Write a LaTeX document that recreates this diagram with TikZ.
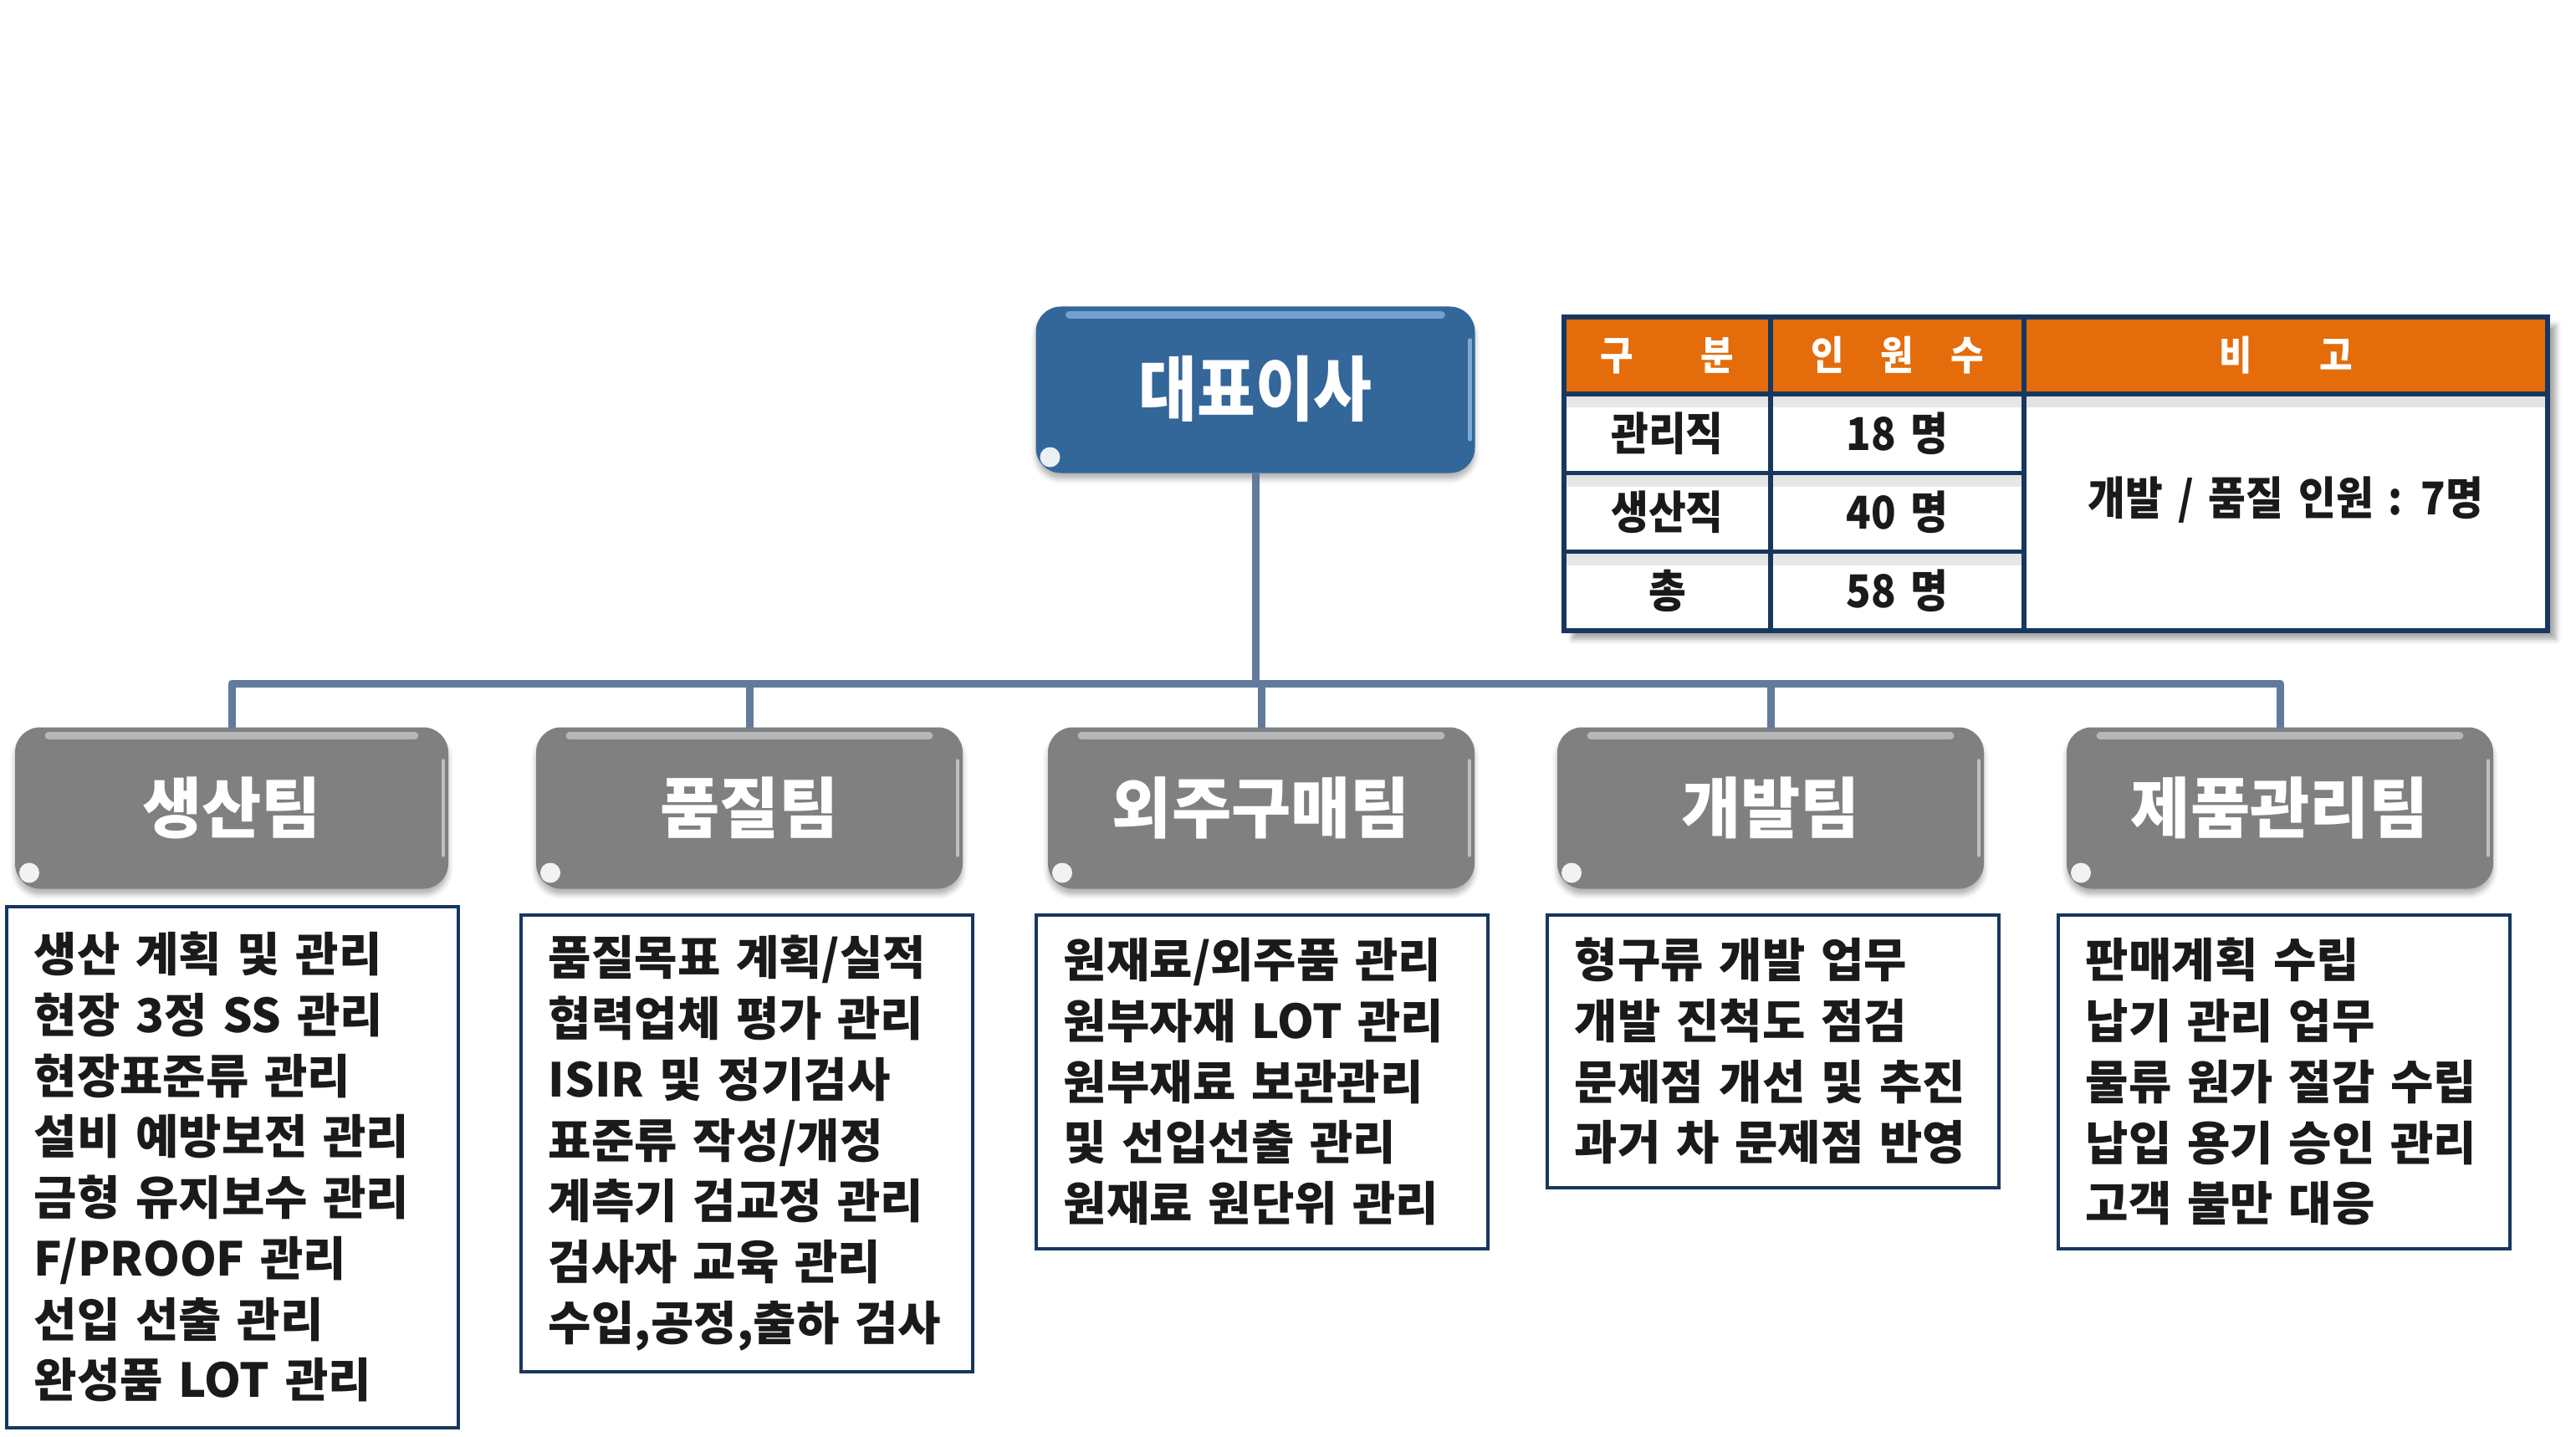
\documentclass[tikz,border=0pt]{standalone}
\usepackage{fontspec}
\newfontfamily\krlist[WordSpace=2.3]{Noto Sans CJK KR}
\newfontfamily\krhead[FakeStretch=0.9]{Noto Sans CJK KR}
\newfontfamily\krteam[FakeStretch=0.98]{Noto Sans CJK KR}
\newfontfamily\krtab[FakeStretch=0.9,WordSpace=1.6]{Noto Sans CJK KR}
\usetikzlibrary{positioning,shadows.blur}
\definecolor{ceoblue}{RGB}{51,102,153}
\definecolor{ceolight}{RGB}{160,200,240}
\definecolor{teamgray}{RGB}{128,128,128}
\definecolor{teamlight}{RGB}{215,220,228}
\definecolor{linkcol}{RGB}{98,122,156}
\definecolor{navy}{RGB}{23,55,94}
\definecolor{arancio}{RGB}{228,108,10}
\definecolor{ink}{RGB}{26,26,26}

\begin{document}
\begin{tikzpicture}
\tikzset{base/.style={align=center,inner sep=0pt,outer sep=0pt}, }
\tikzset{gloss/.style={path picture={
	\draw[#1,line width=2.5pt,line cap=round,opacity=.6] ([xshift=.4cm,yshift=-.1cm]path picture bounding box.north west) -- ([xshift=-.4cm,yshift=-.1cm]path picture bounding box.north east);
	\draw[#1,line width=1.2pt,line cap=round,opacity=.7] ([xshift=-.06cm,yshift=-.4cm]path picture bounding box.north east) -- ([xshift=-.06cm,yshift=.4cm]path picture bounding box.south east);
	\fill[white,opacity=.9] ([xshift=.17cm,yshift=.19cm]path picture bounding box.south west) circle (.12cm);
	}}, }
\tikzset{ceo node/.style={base,gloss=ceolight,fill=ceoblue,rounded corners=.3cm,minimum width=5.25cm,minimum height=1.99cm,text=white,font=\krhead\bfseries\fontsize{24}{24}\selectfont,blur shadow={shadow xshift=0pt,shadow yshift=-.07cm,shadow opacity=30}}, }
\tikzset{team node/.style={base,gloss=teamlight,fill=teamgray,rounded corners=.3cm,minimum width=5.1cm,minimum height=1.93cm,text=white,font=\krteam\bfseries\fontsize{22.5}{22.5}\selectfont,blur shadow={shadow xshift=0pt,shadow yshift=-.07cm,shadow opacity=30}}, }
\tikzset{duty node/.style={draw=navy,line width=1pt,fill=white,anchor=north west,inner xsep=.33cm,inner ysep=0pt,text width=4.74cm,align=left,text=ink,font=\krlist\bfseries\fontsize{15.9}{20.7}\selectfont}, }
\tikzset{cella/.style={base,draw=navy,line width=1.5pt,fill=white,minimum height=.943cm,text=ink,font=\krtab\bfseries\fontsize{15.4}{15.4}\selectfont,
	path picture={\shade[top color=black!11,bottom color=white] (path picture bounding box.north west) rectangle ([yshift=-.16cm]path picture bounding box.north east);}}, }
\tikzset{intesta/.style={base,draw=navy,line width=1.5pt,fill=arancio,minimum height=.92cm,text=white,font=\krtab\bfseries\fontsize{13.6}{13.6}\selectfont}, }
\tikzset{linea/.style={draw=linkcol,line width=.09cm,line join=round},}

\useasboundingbox (0,0) rectangle (30.80,-17.18);

% table
\path[blur shadow={shadow xshift=.1cm,shadow yshift=-.1cm,shadow opacity=35}] (18.70,-3.79) rectangle (30.46,-7.54);
\node[intesta,minimum width=2.47cm] (a) at (19.935,-4.25) {구\hspace{.8cm}분};
\node[intesta,minimum width=3.03cm,right=0pt of a] (b) {인\hspace{.44cm}원\hspace{.44cm}수};
\node[intesta,minimum width=6.26cm,right=0pt of b] (c) {비\hspace{.8cm}고};
\node[cella,minimum width=2.47cm,below=0pt of a] (1) {관리직};
\node[cella,minimum width=3.03cm,right=0pt of 1] (2) {18 명};
\node[cella,minimum width=2.47cm,below=0pt of 1] (3) {생산직};
\node[cella,minimum width=3.03cm,right=0pt of 3] (4) {40 명};
\node[cella,minimum width=2.47cm,below=0pt of 3] (5) {총};
\node[cella,minimum width=3.03cm,right=0pt of 5] (6) {58 명};
\node[cella,minimum width=6.26cm,minimum height=2.829cm,below=0pt of c] (7) {\raisebox{.4cm}{개발 / 품질 인원 : 7명}};

% boxes
\node[ceo node] (ceo) at (15.01,-4.66) {\raisebox{.1cm}{대표이사}};
\node[team node,minimum width=5.18cm] (t1) at (2.77,-9.66) {\raisebox{.08cm}{생산팀}};
\node[team node] (t2) at (8.96,-9.66) {\raisebox{.08cm}{품질팀}};
\node[team node] (t3) at (15.08,-9.66) {\raisebox{.08cm}{외주구매팀}};
\node[team node] (t4) at (21.17,-9.66) {\raisebox{.08cm}{개발팀}};
\node[team node] (t5) at (27.26,-9.66) {\raisebox{.08cm}{제품관리팀}};

\coordinate (bus) at (15.04,-8.17);
\draw[linea] (ceo.south) -- (ceo.south |- bus);
\draw[linea] (t1.north) |- (t5.north |- bus) -- (t5.north);
\draw[linea] (t2.north) -- (t2.north |- bus);
\draw[linea] (t3.north) -- (t3.north |- bus);
\draw[linea] (t4.north) -- (t4.north |- bus);

\node[duty node,minimum height=6.23cm] (d1) at (0.06,-10.82) {생산 계획 및 관리\\현장 3정 SS 관리\\현장표준류 관리\\설비 예방보전 관리\\금형 유지보수 관리\\F/PROOF 관리\\선입 선출 관리\\완성품 LOT 관리};
\node[duty node,minimum height=5.46cm] (d2) at (6.21,-10.92) {품질목표 계획/실적\\협력업체 평가 관리\\ISIR 및 정기검사\\표준류 작성/개정\\계측기 검교정 관리\\검사자 교육 관리\\수입,공정,출하 검사};
\node[duty node,minimum height=3.99cm] (d3) at (12.37,-10.92) {원재료/외주품 관리\\원부자재 LOT 관리\\원부재료 보관관리\\및 선입선출 관리\\원재료 원단위 관리};
\node[duty node,minimum height=3.26cm] (d4) at (18.48,-10.92) {형구류 개발 업무\\개발 진척도 점검\\문제점 개선 및 추진\\과거 차 문제점 반영};
\node[duty node,minimum height=3.99cm] (d5) at (24.59,-10.92) {판매계획 수립\\납기 관리 업무\\물류 원가 절감 수립\\납입 용기 승인 관리\\고객 불만 대응};
\end{tikzpicture}
\end{document}
